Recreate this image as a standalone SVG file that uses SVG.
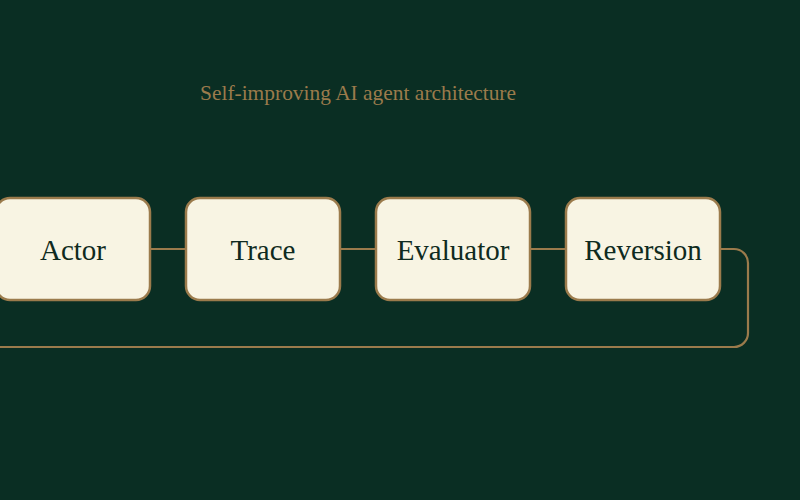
<svg xmlns="http://www.w3.org/2000/svg" width="800" height="500" viewBox="0 0 800 500">
<style>
.node rect{fill:#f8f4e3;stroke:#9b7b4c;stroke-width:2.5}
.node text{font-family:"Liberation Serif",serif;font-size:29px;fill:#0f2a20;text-anchor:middle}
.edge{fill:none;stroke:#9b7b4c;stroke-width:2.2}
.title{font-family:"Liberation Serif",serif;font-size:21px;fill:#9b7b4c}
</style>
<rect width="800" height="500" fill="#0a2e23"/>
<text class="title" x="200" y="100" textLength="316" lengthAdjust="spacingAndGlyphs">Self-improving AI agent architecture</text>
<g id="connectors">
<path class="edge" d="M150 249 H186"/>
<path class="edge" d="M340 249 H376"/>
<path class="edge" d="M530 249 H566"/>
<path class="edge" d="M720 249 H734 A14 14 0 0 1 748 263 V333 A14 14 0 0 1 734 347 H-10"/>
</g>
<g id="actor" class="node"><rect x="-4" y="198" width="154" height="102" rx="14"/><text x="73" y="260">Actor</text></g>
<g id="trace" class="node"><rect x="186" y="198" width="154" height="102" rx="14"/><text x="263" y="260">Trace</text></g>
<g id="evaluator" class="node"><rect x="376" y="198" width="154" height="102" rx="14"/><text x="453" y="260">Evaluator</text></g>
<g id="reversion" class="node"><rect x="566" y="198" width="154" height="102" rx="14"/><text x="643" y="260">Reversion</text></g>
</svg>
